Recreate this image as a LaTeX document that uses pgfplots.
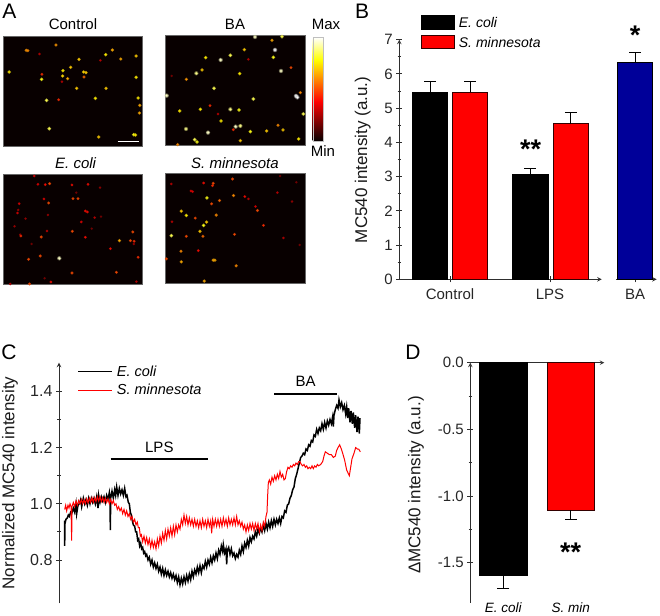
\documentclass[border=0pt]{standalone}
\usepackage{fontspec}
\setmainfont{Liberation Sans}
\usepackage{pgfplots}
\usepackage{pgfplotstable}
\pgfplotsset{compat=1.18}
\newcommand{\fs}[1]{\fontsize{#1}{#1}\selectfont}
\definecolor{axcol}{HTML}{2E2E2E}
\definecolor{navy}{HTML}{000099}

% microscope spots, x y in 3x pixel units of each image, m = colour value
\pgfplotstableread{
x y m
78 151 .62
83 152 .6
167 135 .62
118 162 .3
27 216 .75
236 178 .7
316 164 .75
336 150 .65
361 177 .65
407 168 .7
300 181 .3
188 212 .75
211 202 .7
187 228 .72
250 216 .72
257 218 .7
125 223 .45
124 238 .8
202 236 .65
251 231 .55
185 245 .3
407 232 .75
229 265 .7
317 265 .7
139 301 .85
175 299 .45
285 295 .75
413 294 .75
418 316 .65
417 339 .65
147 386 .85
295 411 .7
400 404 .8
405 405 .75
}\ctrl
\pgfplotstableread{
x y m
765 111 .95
816 121 .65
846 110 .85
733 149 .7
825 150 1
691 166 .85
662 180 .95
820 172 .8
617 173 .75
745 178 .3
843 213 .95
873 203 .5
719 221 .75
606 210 .7
589 220 .9
559 238 .62
515 228 .2
642 265 .85
500 287 .95
888 288 1
892 292 1
901 278 .6
760 297 .85
630 317 .45
601 328 .75
691 328 .9
717 330 .8
539 333 .75
910 342 .85
654 342 .3
663 363 .75
834 376 .6
558 387 .9
707 380 .95
721 378 .9
700 389 .45
624 398 .95
751 395 .8
800 393 .7
849 390 .7
584 419 .85
591 426 .8
721 422 .7
896 417 .75
533 434 .6
}\ba
\pgfplotstableread{
x y m
102 78 .35
113 103 .35
135 104 .4
148 101 .5
215 105 .4
263 103 .4
299 113 .25
228 128 .2
131 147 .35
218 146 .5
233 146 .5
145 159 .5
57 161 .35
54 180 .25
52 189 .35
255 183 .4
261 186 .4
143 195 .25
76 206 .25
283 203 .3
302 200 .2
243 216 .35
43 229 .25
140 243 .3
216 244 .5
274 236 .2
397 246 .5
60 254 .25
62 258 .45
123 261 .5
255 262 .4
357 272 .65
390 272 .5
401 274 .45
400 282 .25
94 282 .2
330 296 .4
120 318 .5
85 328 .5
177 325 .95
413 322 .45
215 369 .5
348 367 .5
133 385 .2
152 396 .4
408 395 .3
88 402 .5
30 402 .3
}\ecoli
\pgfplotstableread{
x y m
514 102 .3
611 99 .4
640 100 .5
638 107 .45
698 87 .5
841 78 .2
890 97 .2
573 123 .35
578 125 .35
833 128 .3
621 144 .8
701 137 .6
735 140 .4
746 147 .3
659 152 .55
635 162 .5
877 155 .25
767 170 .35
773 182 .5
544 184 .7
559 197 .75
586 205 .5
649 196 .6
516 216 .3
620 217 .7
611 227 .8
791 227 .45
600 245 .7
514 258 .85
559 260 .5
609 260 .55
704 254 .5
851 265 .3
900 286 .2
595 303 .4
543 305 .6
499 328 .5
544 337 .65
640 332 .65
645 332 .65
709 349 .6
613 395 .65
}\smin

\pgfplotsset{
  colormap={mc}{rgb255(0)=(8,0,0) rgb255(38)=(255,0,0) rgb255(78)=(255,255,0) rgb255(100)=(255,255,255)},
  micro/.style={
    scale only axis, width=139.3pt, height=110pt, y dir=reverse,
    xtick=\empty, ytick=\empty, clip=true,
    axis line style={draw=black!60, line width=0.6pt},
    axis background/.style={fill=black!97!red},
    point meta min=0, point meta max=1, colormap name=mc,
  },
  spot/.style={scatter, only marks, mark=*, scatter src=explicit,
    visualization depends on={\thisrow{m} \as \mm},
    scatter/@pre marker code/.append style={/tikz/mark size=0.6+0.85*\mm}},
  halo/.style={scatter, only marks, mark=*, scatter src=explicit, opacity=0.3,
    visualization depends on={\thisrow{m} \as \mm},
    scatter/@pre marker code/.append style={/tikz/mark size=1.0+1.1*\mm}},
  panel/.style={
    scale only axis, clip=false, tick align=outside,
    axis line style={-, draw=axcol, line width=1pt},
    tick style={draw=axcol, line width=1pt},
    major tick length=6pt, minor tick length=3.5pt,
    tick label style={font=\fs{15}, text=black!85},
    xticklabel style={yshift=-3pt},
    /pgf/number format/assume math mode=true,
    /pgf/number format/fixed,
    label style={font=\fs{17}, text=black!90},
  },
  barerr/.style={error bars/.cd, y explicit, y dir=#1,
    error bar style={black, line width=0.9pt},
    error mark options={rotate=90, mark size=6pt, black, line width=0.9pt}},
}

\begin{document}
\begin{tikzpicture}[x=1pt,y=1pt]
\useasboundingbox (0,0) rectangle (660,-615);

% panel letters
\node[font=\fs{21}] at (9.5,-11) {A};
\node[font=\fs{21}] at (362,-11) {B};
\node[font=\fs{21}] at (9,-352) {C};
\node[font=\fs{21}] at (413,-352) {D};

% panel A
\begin{axis}[micro, at={(3.5pt,-36pt)}, anchor=north west, xmin=10, xmax=427, ymin=108, ymax=438]
  \addplot[halo] table[meta=m] {\ctrl};
  \addplot[spot] table[meta=m] {\ctrl};
  \addplot[white, line width=1.6pt] coordinates {(352,424) (415,424)};
\end{axis}
\begin{axis}[micro, at={(165.7pt,-35.3pt)}, anchor=north west, xmin=497, xmax=915, ymin=106, ymax=436,
    colorbar,
    colorbar style={at={(parent axis.north east)}, anchor=north west, xshift=-0.8pt, yshift=-2pt,
      width=10.6pt, height=103.4pt, ytick=\empty, axis line style={draw=black!25, line width=0.4pt}}]
  \addplot[halo] table[meta=m] {\ba};
  \addplot[spot] table[meta=m] {\ba};
\end{axis}
\begin{axis}[micro, at={(3.5pt,-174.3pt)}, anchor=north west, xmin=10, xmax=427, ymin=73, ymax=403]
  \addplot[halo] table[meta=m] {\ecoli};
  \addplot[spot] table[meta=m] {\ecoli};
\end{axis}
\begin{axis}[micro, at={(165.7pt,-173.7pt)}, anchor=north west, xmin=497, xmax=916, ymin=71, ymax=403]
  \addplot[halo] table[meta=m] {\smin};
  \addplot[spot] table[meta=m] {\smin};
\end{axis}
\node[font=\fs{15}] at (73,-24) {Control};
\node[font=\fs{15}] at (235,-24) {BA};
\node[font=\fs{15}] at (326,-24) {Max};
\node[font=\fs{15}] at (323,-151) {Min};
\node[font=\fs{15}\itshape] at (75.6,-163) {E. coli};
\node[font=\fs{15}\itshape] at (235,-163) {S. minnesota};

% panel B
\begin{axis}[panel, at={(399.3pt,-279.3pt)}, anchor=south west, width=202.4pt, height=239.6pt,
    axis x line=bottom, axis y line=left,
    xmin=-0.507, xmax=1.517, ymin=0, ymax=7,
    xtick={0,1}, xticklabels={Control,LPS}, ytick={0,...,7}, minor y tick num=1,
    ylabel={MC540 intensity (a.u.)},
    ylabel style={at={(axis description cs:-0.181,0.498)}, anchor=center},
    legend style={draw=none, fill=none, at={(axis description cs:0.1057,1.103)}, anchor=north west,
      font=\fs{14}\itshape, row sep=4pt, inner sep=0pt, column sep=4pt,
      nodes={inner sep=0pt, text height=11pt, text depth=3.5pt}},
    legend cell align=left,
    legend image code/.code={\draw[#1, line width=1pt] (0pt,-5.5pt) rectangle (33pt,8pt);},
    ]
  \addplot[ybar, bar width=35.5pt, bar shift=0pt, fill=black, draw=black, line width=1pt,
      barerr=plus] coordinates {(-0.2,5.47) +- (0,0.30) (0.803,3.05) +- (0,0.18)};
  \addplot[ybar, bar width=35.5pt, bar shift=0pt, fill=red, draw=black!80!red, line width=1pt,
      barerr=plus] coordinates {(0.202,5.47) +- (0,0.30) (1.208,4.54) +- (0,0.33)};
  \legend{E. coli, S. minnesota}
  \node[font=\fs{27}\bfseries] at (axis cs:0.807,3.79) {**};
\end{axis}
\begin{axis}[panel, at={(616pt,-279.3pt)}, anchor=south west, width=40.7pt, height=239.6pt,
    axis x line=bottom, axis y line=none,
    xmin=-0.19, xmax=0.217, ymin=0, ymax=7,
    xtick={0}, xticklabels={BA}]
  \addplot[ybar, bar width=35.3pt, bar shift=0pt, fill=navy, draw=black, line width=1pt,
      barerr=plus] coordinates {(0,6.33) +- (0,0.29)};
  \node[font=\fs{27}\bfseries] at (axis cs:0,7.14) {*};
\end{axis}

% panel C, x in 3x pixel units (time has no scale in the figure)
\begin{axis}[panel, at={(59pt,-603.3pt)}, anchor=south west, width=304pt, height=240.6pt,
    axis x line=none, axis y line=left,
    xmin=177, xmax=1089, ymin=0.646, ymax=1.502,
    ytick={0.8,1.0,1.2,1.4}, minor y tick num=1,
    yticklabel style={/pgf/number format/precision=1, /pgf/number format/fixed zerofill},
    tick label style={font=\fs{16}},
    ylabel={Normalized MC540 intensity},
    ylabel style={at={(axis description cs:-0.161,0.5)}, anchor=center},
    legend style={draw=none, fill=none, at={(axis description cs:0.061,0.992)}, anchor=north west,
      font=\fs{14.5}\itshape, row sep=3.5pt, inner sep=0pt, column sep=4pt,
      nodes={inner sep=0pt, text height=11.5pt, text depth=3.5pt}},
    legend cell align=left,
    legend image code/.code={\draw[#1, line width=1.1pt] (0pt,0.5pt) -- (34pt,0.5pt);},
    ]
  \addplot[black, line width=1.5pt] coordinates {
(194,.94)(194,.85)(195,.93)(198,.945)(202,.95)(205,.96)(208,.955)(212,.97)(215,.965)(220,.985)
(224,.97)(228,1.0)(230,.965)(234,.995)(238,1.0)(242,1.015)(245,.99)(250,1.02)(254,1.0)(258,1.015)
(262,.995)(266,1.02)(270,1.0)(274,1.02)(278,1.005)(282,1.02)(286,1.0)(290,1.025)(294,.985)(296,1.03)
(300,1.005)(304,1.025)(308,1.01)(312,1.025)(316,1.005)(320,1.03)(324,1.015)(328,1.04)(330,1.02)(331,.906)
(332,1.02)(336,1.045)(340,1.02)(344,1.05)(347,1.03)(350,1.06)(354,1.03)(358,1.055)(362,1.035)(366,1.05)
(370,1.03)(374,1.055)(378,1.025)(381,1.03)(385,1.005)(388,1.0)(391,.97)(394,.96)(397,.94)(400,.925)
(404,.92)(407,.9)(410,.9)(413,.87)(416,.875)(419,.85)(422,.86)(425,.84)(428,.845)(431,.825)
(434,.83)(437,.815)(440,.82)(444,.80)(448,.81)(452,.785)(456,.80)(460,.775)(464,.79)(468,.77)
(472,.785)(476,.76)(480,.775)(484,.75)(488,.77)(492,.745)(496,.765)(500,.745)(504,.76)(508,.74)
(512,.755)(516,.735)(520,.75)(524,.73)(528,.745)(532,.72)(536,.74)(540,.712)(544,.735)(548,.715)
(552,.74)(556,.72)(560,.745)(564,.725)(568,.75)(572,.73)(576,.76)(580,.74)(584,.765)(588,.75)
(592,.775)(596,.755)(600,.78)(604,.755)(608,.78)(612,.77)(616,.795)(620,.775)(624,.80)(628,.785)
(632,.81)(636,.79)(640,.815)(644,.80)(648,.825)(652,.805)(656,.835)(660,.82)(664,.85)(668,.83)
(670,.855)(674,.825)(678,.84)(680,.785)(682,.835)(686,.845)(690,.82)(694,.84)(698,.815)(702,.825)
(706,.805)(710,.82)(714,.81)(718,.835)(722,.82)(726,.85)(730,.83)(734,.86)(738,.845)(742,.87)
(746,.85)(750,.88)(754,.865)(758,.885)(762,.875)(766,.90)(770,.885)(774,.91)(778,.895)(782,.915)
(786,.90)(790,.925)(794,.905)(798,.93)(802,.91)(806,.935)(810,.915)(814,.94)(818,.92)(822,.945)
(826,.925)(830,.945)(834,.93)(838,.95)(842,.93)(846,.955)(850,.95)(854,.975)(858,.97)(862,.995)
(866,1.0)(870,1.02)(874,1.03)(878,1.05)(882,1.06)(886,1.09)(890,1.105)(894,1.125)(898,1.145)(902,1.165)
(906,1.17)(910,1.18)(914,1.175)(918,1.195)(922,1.19)(926,1.21)(930,1.205)(934,1.225)(938,1.22)(942,1.245)
(946,1.24)(950,1.265)(954,1.25)(958,1.27)(962,1.26)(966,1.285)(970,1.265)(974,1.29)(978,1.27)(982,1.295)
(986,1.28)(990,1.30)(994,1.285)(998,1.31)(1000,1.275)(1002,1.315)(1006,1.335)(1010,1.35)(1014,1.34)(1017,1.37)
(1021,1.345)(1025,1.36)(1029,1.335)(1033,1.35)(1037,1.32)(1040,1.345)(1043,1.305)(1046,1.34)(1050,1.29)(1053,1.33)
(1057,1.285)(1060,1.325)(1064,1.27)(1067,1.315)(1071,1.255)(1074,1.31)(1078,1.25)(1080,1.305)
  };
  \addplot[red, line width=1pt] coordinates {
(194,.98)(197,.995)(200,.975)(204,.995)(207,.985)(210,1.0)(213,.99)(215,.869)(216,.99)(220,1.005)
(224,.99)(228,1.01)(232,.995)(236,1.012)(240,1.0)(244,1.015)(248,1.0)(252,1.015)(256,1.0)(260,1.018)
(264,1.003)(268,1.02)(272,1.005)(276,1.022)(280,1.005)(284,1.022)(288,1.008)(292,1.025)(296,1.01)(300,1.025)
(304,1.008)(308,1.022)(312,1.005)(316,1.02)(320,1.005)(324,1.018)(328,1.0)(332,1.015)(336,1.0)(340,1.012)
(344,.995)(348,1.0)(352,.98)(356,.99)(360,.975)(364,.985)(368,.965)(372,.98)(376,.96)(380,.975)
(384,.955)(388,.965)(392,.945)(396,.955)(400,.935)(404,.945)(408,.925)(412,.935)(415,.915)(418,.915)
(421,.885)(424,.89)(428,.865)(432,.885)(436,.86)(440,.88)(444,.855)(448,.875)(452,.845)(456,.87)
(460,.845)(464,.865)(468,.84)(472,.875)(476,.85)(480,.885)(484,.86)(488,.895)(492,.87)(496,.905)
(500,.875)(504,.91)(508,.885)(512,.915)(516,.885)(520,.92)(524,.89)(528,.925)(532,.90)(536,.925)
(540,.91)(544,.945)(548,.925)(552,.96)(556,.93)(560,.955)(564,.925)(568,.95)(572,.925)(576,.945)
(580,.92)(584,.945)(588,.92)(592,.94)(596,.915)(600,.94)(604,.915)(608,.945)(612,.92)(616,.94)
(620,.915)(624,.945)(628,.92)(632,.94)(635,.895)(638,.945)(642,.92)(646,.945)(650,.92)(654,.945)
(658,.92)(662,.945)(666,.92)(670,.95)(674,.925)(678,.945)(682,.92)(686,.95)(690,.925)(694,.945)
(698,.925)(702,.95)(706,.925)(710,.955)(714,.925)(718,.94)(722,.92)(726,.935)(730,.91)(734,.925)
(738,.90)(742,.925)(746,.905)(750,.93)(754,.91)(758,.93)(762,.905)(766,.93)(770,.91)(774,.93)
(778,.90)(782,.925)(786,.905)(790,.935)(794,.92)(798,.955)(801,.97)(803,1.03)(805,1.075)(808,1.085)
(812,1.07)(816,1.095)(820,1.08)(824,1.10)(828,1.085)(832,1.105)(836,1.09)(840,1.115)(844,1.095)(848,1.105)
(852,1.085)(856,1.09)(860,1.115)(864,1.13)(868,1.125)(872,1.135)(876,1.13)(880,1.14)(884,1.135)(888,1.145)
(892,1.14)(896,1.15)(900,1.15)(904,1.14)(908,1.135)(912,1.14)(916,1.13)(920,1.135)(924,1.125)(928,1.13)
(932,1.125)(936,1.135)(940,1.125)(944,1.135)(948,1.13)(952,1.14)(956,1.135)(962,1.14)(968,1.15)(972,1.17)
(976,1.185)(982,1.18)(988,1.175)(994,1.175)(1000,1.165)(1006,1.17)(1010,1.19)(1014,1.20)(1019,1.21)(1024,1.195)
(1028,1.18)(1034,1.155)(1040,1.12)(1044,1.11)(1048,1.10)(1052,1.13)(1056,1.16)(1062,1.18)(1067,1.2)(1072,1.195)
(1076,1.195)(1081,1.185)
  };
  \legend{E. coli, S. minnesota}
  \addplot[black, line width=2pt, forget plot] coordinates {(332,1.161) (625,1.161)};
  \addplot[black, line width=2pt, forget plot] coordinates {(822,1.392) (1012,1.392)};
  \node[font=\fs{15}] at (axis cs:478,1.2) {LPS};
  \node[font=\fs{15}] at (axis cs:917,1.435) {BA};
\end{axis}

% panel D
\begin{axis}[panel, at={(470.3pt,-362.7pt)}, anchor=north west, width=134pt, height=240pt,
    axis x line=top, axis y line=left,
    xmin=-0.49, xmax=1.4985, ymin=-1.80, ymax=0,
    xtick=\empty, ytick={-1.5,-1,-0.5,0}, minor y tick num=1,
    yticklabel style={/pgf/number format/precision=1, /pgf/number format/fixed zerofill},
    ylabel={ΔMC540 intensity (a.u.)},
    ylabel style={at={(axis description cs:-0.405,0.49)}, anchor=center},
    ]
  \addplot[ybar, bar width=48pt, bar shift=0pt, fill=black, draw=black, line width=1pt,
      barerr=minus] coordinates {(0,-1.595) +- (0,0.095)};
  \addplot[ybar, bar width=46.7pt, bar shift=0pt, fill=red, draw=black!80!red, line width=1pt,
      barerr=minus] coordinates {(1,-1.105) +- (0,0.07)};
  \node[font=\fs{13.5}\itshape] at (axis cs:0,-1.835) {E. coli};
  \node[font=\fs{13.5}\itshape] at (axis cs:1,-1.835) {S. min};
  \node[font=\fs{27}\bfseries] at (axis cs:1,-1.42) {**};
\end{axis}
\end{tikzpicture}
\end{document}
